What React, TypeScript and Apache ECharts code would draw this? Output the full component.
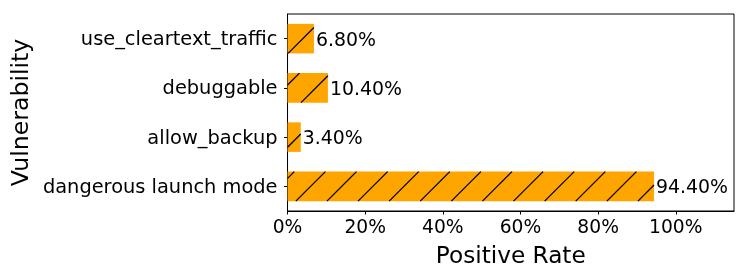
import React, { useEffect, useRef } from "react";
import * as echarts from "echarts";

const categories = ["dangerous launch mode", "allow_backup", "debuggable", "use_cleartext_traffic"];
const values = [94.4, 3.4, 10.4, 6.8];
const xTicks = [0, 20, 40, 60, 80, 100];

const FONT = "DejaVu Sans";
const HATCH_SPACING = 31.1;
const HATCH_OFFSET = 30.5;

export default function App() {
  const ref = useRef<HTMLDivElement>(null);
  useEffect(() => {
    if (!ref.current) return;
    const chart = echarts.init(ref.current, undefined, { renderer: "svg" });
    const renderItem = (params: any, api: any) => {
      const v = api.value(0) as number;
      const ci = api.value(1) as number;
      const p0 = api.coord([0, ci]);
      const p1 = api.coord([v, ci]);
      const band = api.size([0, 1])[1];
      const h = band * 0.6;
      const x0 = p0[0];
      const x1 = p1[0];
      const y0 = p0[1] - h / 2;
      const y1 = p0[1] + h / 2;
      const children: any[] = [
        { type: "rect", shape: { x: x0, y: y0, width: x1 - x0, height: h }, style: { fill: "#FFA500" } },
      ];
      const nMin = Math.floor((x0 + y0 - HATCH_OFFSET) / HATCH_SPACING) - 1;
      const nMax = Math.ceil((x1 + y1 - HATCH_OFFSET) / HATCH_SPACING) + 1;
      for (let n = nMin; n <= nMax; n++) {
        const c = n * HATCH_SPACING + HATCH_OFFSET;
        const xa = Math.max(x0, c - y1);
        const xb = Math.min(x1, c - y0);
        if (xb > xa + 0.3) {
          children.push({
            type: "line",
            shape: { x1: xa, y1: c - xa, x2: xb, y2: c - xb },
            style: { stroke: "#000", lineWidth: 1.3 },
          });
        }
      }
      children.push({
        type: "text",
        x: x1 + 2,
        y: p0[1],
        style: {
          text: v.toFixed(2) + "%",
          fontSize: 18.9,
          fontFamily: FONT,
          fill: "#000",
          verticalAlign: "middle",
          align: "left",
        },
      });
      return { type: "group", children };
    };
    chart.setOption({
      animation: false,
      grid: { left: 287, right: 13, top: 14, bottom: 69, show: true, borderColor: "#000", borderWidth: 1, backgroundColor: "transparent" },
      xAxis: {
        type: "value",
        min: 0,
        max: 115,
        splitLine: { show: false },
        axisLine: { show: true, lineStyle: { color: "#000", width: 1 } },
        axisTick: { show: true, length: 3.5, lineStyle: { color: "#000" }, customValues: xTicks },
        axisLabel: {
          customValues: xTicks,
          formatter: (v: number) => v + "%",
          fontSize: 18.7,
          fontFamily: FONT,
          color: "#000",
          margin: 6,
        },
        name: "Positive Rate",
        nameLocation: "middle",
        nameGap: 32,
        nameTextStyle: { fontSize: 23.2, fontFamily: FONT, color: "#000" },
      },
      yAxis: {
        type: "category",
        data: categories,
        axisLine: { show: true, lineStyle: { color: "#000", width: 1 } },
        axisTick: { show: true, alignWithLabel: true, length: 3.5, lineStyle: { color: "#000" } },
        axisLabel: { fontSize: 19.4, fontFamily: FONT, color: "#000", margin: 10 },
        splitLine: { show: false },
        name: "Vulnerability",
        nameLocation: "middle",
        nameGap: 252,
        nameTextStyle: { fontSize: 23.6, fontFamily: FONT, color: "#000" },
      },
      series: [
        {
          type: "custom",
          renderItem,
          encode: { x: 0, y: 1 },
          data: values.map((v, i) => [v, i]),
        },
      ],
    });
    return () => chart.dispose();
  }, []);
  return <div ref={ref} style={{ position: "fixed", left: 0, top: 0, width: 747, height: 280 }} />;
}
